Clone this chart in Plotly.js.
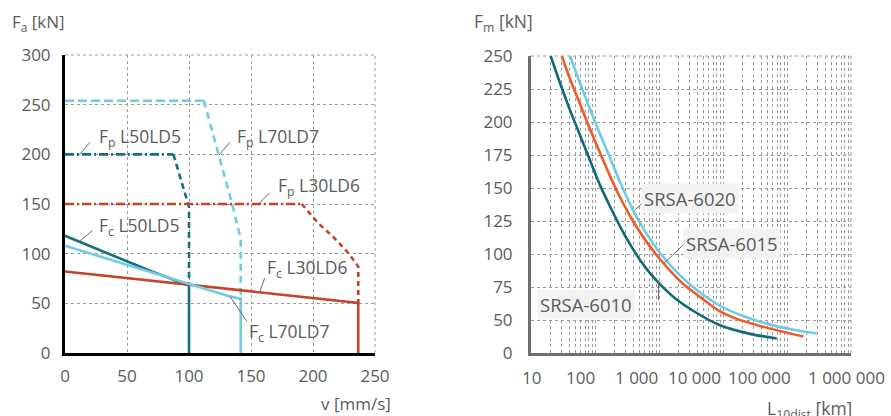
<!DOCTYPE html>
<html>
<head>
<meta charset="utf-8">
<script src="https://cdn.plot.ly/plotly-3.0.1.min.js"></script>
<style>html,body{margin:0;padding:0;background:#fff;}#chart{width:891px;height:416px;}</style>
</head>
<body>
<div id="chart"></div>
<script>
// ---------- LEFT CHART DATA (v [mm/s], F [kN]) ----------
const leftXTicks = [0, 50, 100, 150, 200, 250];
const leftYTicks = [0, 50, 100, 150, 200, 250, 300];

const vFcL50LD5 = [0, 70, 100, 100];
const FFcL50LD5 = [118, 82, 68, 0];

const vFcL70LD7 = [0, 133, 141.7, 141.7];
const FFcL70LD7 = [108, 57, 54.5, 0];

const vFcL30LD6 = [0, 236.5, 236.5];
const FFcL30LD6 = [82, 50.5, 0];

const vFpL50LD5flat = [0, 87.4];
const FFpL50LD5flat = [200, 200];
const vFpL50LD5drop = [87.4, 99.5, 100, 100];
const FFpL50LD5drop = [200, 149, 147, 68];

const vFpL70LD7flat = [0, 112];
const FFpL70LD7flat = [254, 254];
const vFpL70LD7drop = [112, 135, 141.7, 141.7];
const FFpL70LD7drop = [254, 149, 115, 54.5];

const vFpL30LD6flat = [0, 191];
const FFpL30LD6flat = [150, 150];
const vFpL30LD6drop = [191, 204, 217, 229, 236.5, 236.5];
const FFpL30LD6drop = [150, 131, 116, 100, 87, 50.5];

// ---------- RIGHT CHART DATA (L10dist [km], Fm [kN]) ----------
const rightXTickText = ['10', '100', '1 000', '10 000', '100 000', '1 000 000'];
const rightYTickVals = [25, 50, 75, 100, 125, 150, 175, 200, 225, 250];
const rightYTickText = ['0', '50', '75', '100', '125', '150', '175', '200', '225', '250'];

const L6010 = [20.3, 28.4, 40.7, 58.3, 83.5, 120, 172, 246, 352, 505, 723, 1040, 1780, 3400, 9000, 26400, 69000];
const F6010 = [250, 229.5, 209, 190, 171, 152, 136, 121, 107.5, 95.5, 85.5, 77, 66.5, 57, 46, 39.5, 36];

const L6015 = [30.2, 40.7, 58.3, 83.5, 120, 172, 246, 392, 643, 1040, 1655, 2640, 4370, 8980, 14300, 37900, 180000];
const F6015 = [250, 232.6, 213.6, 194.7, 176.5, 159, 143, 125, 109, 96, 85, 75.5, 67.5, 56.5, 52, 45.5, 37.5];

const L6020 = [40.7, 58.3, 83.5, 120, 172, 246, 392, 626, 1040, 1845, 3400, 6270, 11550, 22100, 54200, 133400, 291000];
const F6020 = [250, 229.5, 209.8, 190.9, 172.7, 154.5, 133.3, 116, 100.8, 86.8, 75, 65.5, 58, 52.5, 46.5, 42.4, 39.8];

// ---------- STYLE ----------
const TEAL = '#15707f';
const DTEAL = '#11697a';
const LBLUE = '#6fcce4';
const RED = '#c4432b';
const ORANGE = '#f15a29';
const TXT = '#5b5b5b';
const GRID = '#9a9a9a';

function ln(x, y, color, dash, xa, ya, shape) {
  return {x: x, y: y, type: 'scatter', mode: 'lines', xaxis: xa || 'x', yaxis: ya || 'y',
    line: {color: color, width: 2.6, dash: dash || 'solid', shape: shape || 'linear', smoothing: 0.8},
    hoverinfo: 'skip'};
}

const traces = [
  ln(vFpL50LD5flat, FFpL50LD5flat, TEAL, '9px,3px,2px,3px'),
  ln(vFpL50LD5drop, FFpL50LD5drop, TEAL, '6px,4px'),
  ln(vFpL70LD7flat, FFpL70LD7flat, LBLUE, '9px,4px'),
  ln(vFpL70LD7drop, FFpL70LD7drop, LBLUE, '7px,5px'),
  ln(vFpL30LD6flat, FFpL30LD6flat, RED, '9px,3px,2px,3px'),
  ln(vFpL30LD6drop, FFpL30LD6drop, RED, '5px,4px'),
  ln(vFcL50LD5, FFcL50LD5, TEAL),
  ln(vFcL30LD6, FFcL30LD6, RED),
  ln(vFcL70LD7, FFcL70LD7, LBLUE),
  ln(L6010, F6010, DTEAL, 'solid', 'x2', 'y2', 'spline'),
  ln(L6015, F6015, ORANGE, 'solid', 'x2', 'y2', 'spline'),
  ln(L6020, F6020, LBLUE, 'solid', 'x2', 'y2', 'spline')
];

function label(x, y, text, xref, yref, extra) {
  return Object.assign({x: x, y: y, xref: xref || 'x', yref: yref || 'y', text: text, showarrow: false,
    xanchor: 'left', yanchor: 'middle', font: {size: 17.5, color: TXT}}, extra || {});
}
// leader line: starts at a data point, goes (dx, dy) pixels (dy positive = up)
function leader(x, y, dx, dy, xref, yref) {
  return {type: 'line', xref: xref || 'x', yref: yref || 'y', xsizemode: 'pixel', ysizemode: 'pixel',
    xanchor: x, yanchor: y, x0: 0, x1: dx, y0: 0, y1: dy, line: {color: '#6a6a6a', width: 1}, layer: 'above'};
}
function border(xref, yref, x0, x1, y0, y1) {
  return {type: 'line', xref: xref, yref: yref, x0: x0, x1: x1, y0: y0, y1: y1,
    line: {color: GRID, width: 1, dash: 'dot'}, layer: 'below'};
}
const srsaBox = {font: {size: 18.5, color: TXT}, bgcolor: 'rgba(242,242,242,0.95)', borderpad: 2};

const shapes = [
  border('x domain', 'y domain', 1, 1, 0, 1),
  border('x domain', 'y domain', 0, 1, 1, 1),
  border('x2 domain', 'y2 domain', 1, 1, 0, 1),
  border('x2 domain', 'y2 domain', 0, 1, 1, 1),
  leader(12, 200, 10, 12),
  leader(124, 199, 11, 13),
  leader(156, 150, 11, 11),
  leader(11.5, 112.2, 13, 11),
  leader(157, 61.3, 5, 14),
  leader(133, 57, 17, -25),
  leader(420, 133.5, 7, 6, 'x2', 'y2'),
  leader(1197, 93, 21, 20, 'x2', 'y2'),
  leader(980, 78.5, -23, -18, 'x2', 'y2')
];

const annotations = [
  // axis titles
  {x: 10/891, y: 1 - 22/416, xref: 'paper', yref: 'paper', text: 'F<sub>a</sub> [kN]', showarrow: false, xanchor: 'left', yanchor: 'middle', font: {size: 17, color: TXT}},
  {x: 393/891, y: 1 - 403/416, xref: 'paper', yref: 'paper', text: 'v [mm/s]', showarrow: false, xanchor: 'right', yanchor: 'middle', font: {size: 17, color: TXT}},
  {x: 472/891, y: 1 - 22/416, xref: 'paper', yref: 'paper', text: 'F<sub>m</sub> [kN]', showarrow: false, xanchor: 'left', yanchor: 'middle', font: {size: 17.5, color: TXT}},
  {x: 765/891, y: 1 - 409/416, xref: 'paper', yref: 'paper', text: 'L<sub>10dist</sub> [km]', showarrow: false, xanchor: 'left', yanchor: 'middle', font: {size: 17.5, color: TXT}},
  // left labels
  label(25.6, 217.4, 'F<sub>p</sub> L50LD5'),
  label(137.1, 217.4, 'F<sub>p</sub> L70LD7'),
  label(170.2, 167.6, 'F<sub>p</sub> L30LD6'),
  label(25.6, 127.5, 'F<sub>c</sub> L50LD5'),
  label(161.3, 85, 'F<sub>c</sub> L30LD6'),
  label(147, 20.6, 'F<sub>c</sub> L70LD7'),
  // right labels
  label(Math.log10(10 * Math.pow(10, (641 - 531) / 64)), 141.7, 'SRSA-6020', 'x2', 'y2', srsaBox),
  label(Math.log10(10 * Math.pow(10, (683 - 531) / 64)), 108.1, 'SRSA-6015', 'x2', 'y2', srsaBox),
  label(Math.log10(10 * Math.pow(10, (537 - 531) / 64)), 62.1, 'SRSA-6010', 'x2', 'y2', srsaBox)
];

// right x tick labels
const rxAnchor = [['center', 0], ['right', 2], ['right', 1], ['right', 0], ['right', 6], ['right', 36]];
rightXTickText.forEach(function (t, i) {
  annotations.push({x: i + 1, y: 1 - 377/416, xref: 'x2', yref: 'paper', text: t, showarrow: false,
    xanchor: rxAnchor[i][0], xshift: rxAnchor[i][1], yanchor: 'middle', font: {size: 17, color: TXT}});
});

const gridCommon = {showgrid: true, gridcolor: GRID, griddash: 'dot', gridwidth: 1, zeroline: false, ticks: '', fixedrange: true};

const layout = {
  width: 891, height: 416,
  margin: {l: 0, r: 0, t: 0, b: 0},
  paper_bgcolor: '#fff', plot_bgcolor: '#fff',
  showlegend: false,
  font: {family: 'Open Sans, Noto Sans, sans-serif', size: 17, color: TXT},
  xaxis: Object.assign({domain: [65/891, 375/891], range: [0, 250], tickvals: leftXTicks,
    showline: true, linecolor: '#000', linewidth: 3, anchor: 'y', ticklabelstandoff: 6}, gridCommon),
  yaxis: Object.assign({domain: [63/416, 361/416], range: [0, 300], tickvals: leftYTicks,
    showline: true, linecolor: '#000', linewidth: 3, anchor: 'x', ticklabelstandoff: 8}, gridCommon),
  xaxis2: Object.assign({domain: [531/891, 851/891], type: 'log', range: [1, 6], dtick: 1,
    showticklabels: false, showline: true, linecolor: '#6e6e6e', linewidth: 3, anchor: 'y2',
    minor: {showgrid: true, dtick: 'D1', gridcolor: GRID, griddash: 'dot', gridwidth: 1}}, gridCommon),
  yaxis2: Object.assign({domain: [63/416, 360/416], range: [25, 250], tickvals: rightYTickVals, ticktext: rightYTickText,
    showline: true, linecolor: '#6e6e6e', linewidth: 3, anchor: 'x2', ticklabelstandoff: 12}, gridCommon),
  shapes: shapes,
  annotations: annotations
};

Plotly.newPlot('chart', traces, layout, {staticPlot: true, displayModeBar: false});
</script>
</body>
</html>
